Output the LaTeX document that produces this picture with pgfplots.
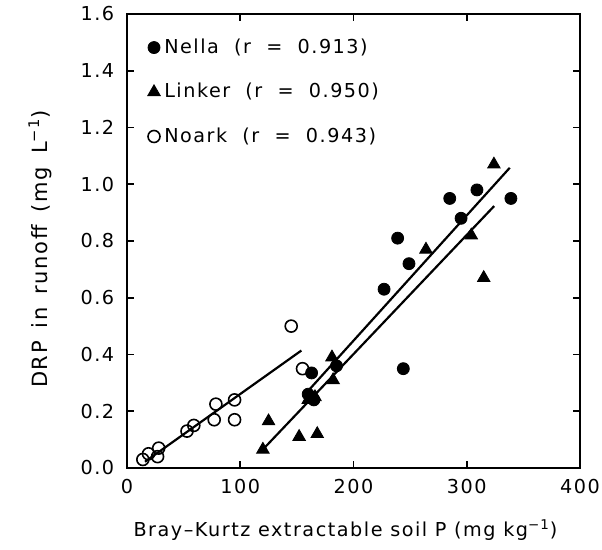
\documentclass[border=0pt]{standalone}
\usepackage{fontspec}
\setmainfont{DejaVu Sans}[LetterSpace=8]
\usepackage{pgfplots}
\pgfplotsset{compat=1.18}
\newcommand\gap{\hspace{7.6pt}}
\newcommand\ygap{\hspace{6.5pt}}
\begin{document}
\fontsize{9.6}{11.5}\selectfont
\begin{tikzpicture}
\useasboundingbox (-63.5pt,-41pt) rectangle (237.5pt,234pt);
\begin{axis}[
  scale only axis, width=226.5pt, height=227pt,
  xmin=0, xmax=400, ymin=0, ymax=1.6,
  xtick={0,100,200,300,400}, ytick={0,0.2,0.4,0.6,0.8,1.0,1.2,1.4,1.6},
  tick align=inside, major tick length=3.5pt,
  tick style={line width=0.8pt, black},
  axis line style={line width=1.1pt},
  /pgf/number format/assume math mode=true,
  yticklabel style={/pgf/number format/fixed,/pgf/number format/fixed zerofill,/pgf/number format/precision=1, xshift=-3pt},
  xticklabel style={yshift=-2pt},
  ticklabel style={font=\fontsize{9.6}{11.5}\selectfont},
  label style={font=\fontsize{9.6}{11.5}\selectfont},
  xlabel={Bray--Kurtz extractable soil P (mg kg\textsuperscript{−1})},
  ylabel={DRP\ygap in\ygap runoff\ygap (mg\ygap L\textsuperscript{−1})},
  xlabel style={at={(rel axis cs:0.5,0)}, yshift=-31pt, xshift=-4pt, anchor=center},
  ylabel style={at={([xshift=-43.5pt,yshift=-4pt]rel axis cs:0,0.5)}, anchor=center, font=\fontsize{10.5}{12.5}\selectfont},
  legend style={draw=none, fill=none, at={(rel axis cs:0.045,0.955)}, anchor=north west,
    font=\fontsize{9.6}{11.5}\selectfont, row sep=9.5pt, inner sep=0pt,
    /tikz/every even column/.append style={column sep=2pt}},
  legend cell align=left,
  legend image code/.code={\draw[#1] plot coordinates {(0.1cm,0cm)};},
  clip=false,
]
% Nella (filled circles)
\addplot[only marks, mark=*, mark size=3pt, black] coordinates {
 (160,0.26) (163,0.335) (165,0.24) (185,0.36) (227,0.63) (239,0.81)
 (244,0.35) (249,0.72) (285,0.95) (295,0.88) (309,0.98) (339,0.95)};
\addlegendentry{Nella\gap(r\gap=\gap0.913)}
% Linker (filled triangles)
\addplot[only marks, mark=triangle*, mark size=3.6pt, black] coordinates {
 (120,0.065) (125,0.165) (152,0.11) (168,0.12) (160,0.24) (166,0.25)
 (181,0.39) (182,0.31) (264,0.77) (304,0.82) (315,0.67) (324,1.07)};
\addlegendentry{Linker\gap(r\gap=\gap0.950)}
% Noark (open circles)
\addplot[only marks, mark=o, mark size=3pt, black, mark options={line width=0.8pt}] coordinates {
 (14,0.03) (19,0.05) (28,0.07) (27,0.04) (53,0.13) (59,0.15)
 (77,0.17) (78.5,0.225) (95,0.24) (95,0.17) (145,0.50) (155,0.35)};
\addlegendentry{Noark\gap(r\gap=\gap0.943)}
% regression lines
\addplot[black, line width=1.1pt, forget plot] coordinates {(160,0.272) (338,1.058)};
\addplot[black, line width=1.1pt, forget plot] coordinates {(119.7,0.064) (324.2,0.923)};
\addplot[black, line width=1.1pt, forget plot] coordinates {(15.9,0.022) (154,0.414)};
\end{axis}
\end{tikzpicture}
\end{document}
